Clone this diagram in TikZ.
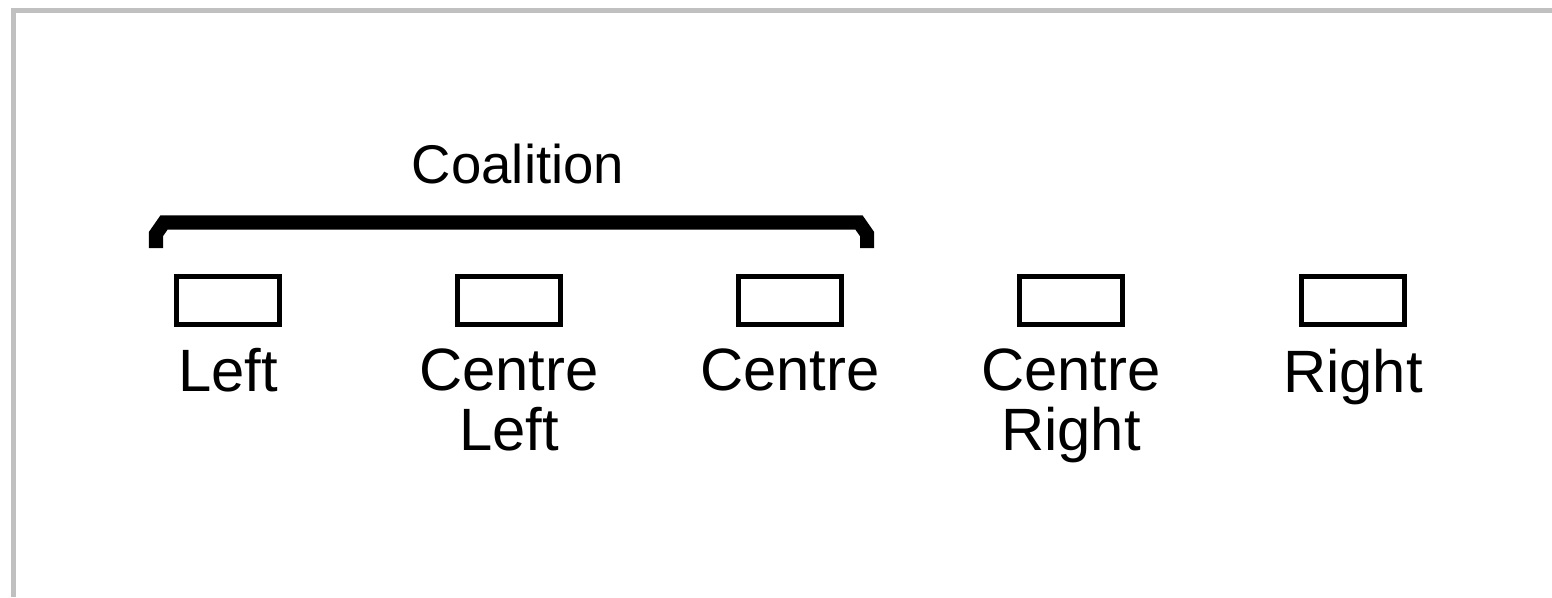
\documentclass[tikz,border=0pt]{standalone}
\usepackage{fontspec}
\setmainfont{Liberation Sans}
\usetikzlibrary{positioning}
\definecolor{Frame}{HTML}{C0C0C0}
\definecolor{Ink}{HTML}{000000}

\begin{document}
\begin{tikzpicture}[x=0.01cm,y=-0.01cm,
  seat/.style={draw=Ink,line width=0.05cm,minimum width=1.03cm,minimum height=0.48cm,inner sep=0pt},
  party/.style={font=\fontsize{17pt}{17.1pt}\selectfont,align=center,inner sep=0pt}]
  \useasboundingbox (0,0) rectangle (1552,597);
  \fill[white] (0,0) rectangle (1552,597);
  \draw[Frame,line width=0.05cm] (13.5,597) -- (13.5,10.5) -- (1552,10.5);
  \foreach \i/\cx/\lab in {1/228/Left,2/509/Centre\\Left,3/790/Centre,
                           4/1071/Centre\\Right,5/1353/Right} {
    \node[seat] (box\i) at (\cx,300.5) {};
    \node[party,below=0.21cm of box\i] (lab\i) {\lab};
  }
  % bracket over the first three
  \coordinate (brL) at (156,248);
  \coordinate (brR) at (867,248);
  \draw[Ink,line width=0.14cm] (brL) -- ++(0,-14) -- ++(8,-11.5) -- (859,222.5)
    -- ++(8,11.5) -- (brR);
  \node[font=\fontsize{15.5pt}{18pt}\selectfont,anchor=base] (coal) at (518,183) {Coalition};
\end{tikzpicture}
\end{document}
